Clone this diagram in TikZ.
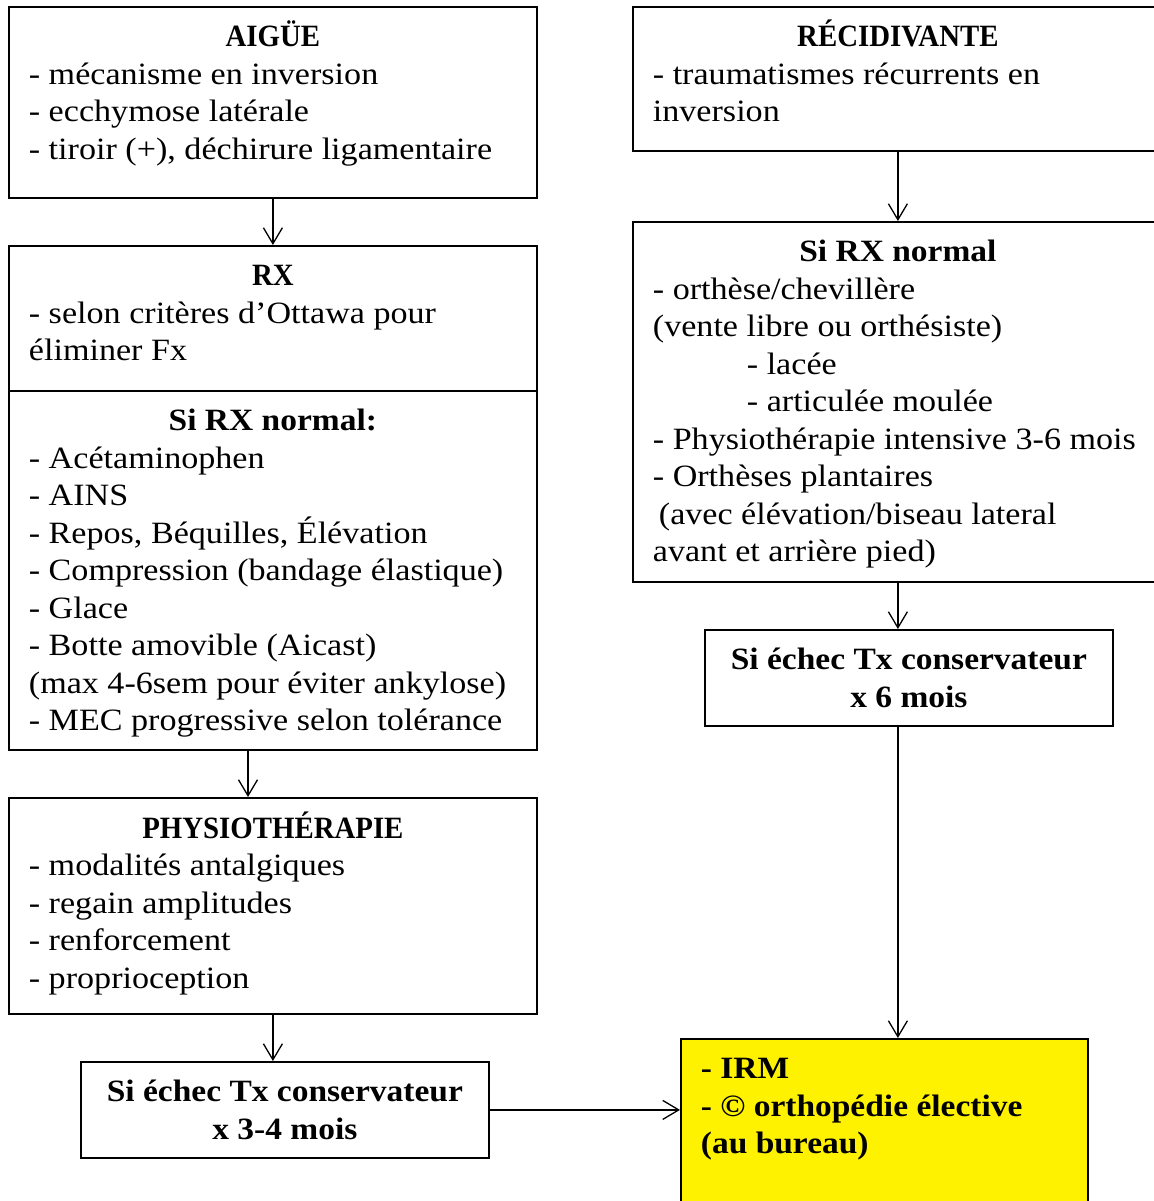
\documentclass[tikz,border=0pt]{standalone}
\usepackage{fontspec}
\setmainfont[FakeStretch=1.10, BoldFeatures={FakeStretch=1.08}]{Liberation Serif}
\newfontfamily\capsfont[FakeStretch=0.93]{Liberation Serif Bold}
\usetikzlibrary{arrows.meta}
\newcommand\mainsz{\fontsize{31pt}{37.5pt}\selectfont}
\newcommand\bxt[3]{\parbox[c][#2][t]{#1}{\mainsz\raggedright\vspace*{13.5pt}#3}}
\newcommand\ttl[1]{\centerline{\strut{\capsfont #1}}}
\tikzset{
  box/.style={draw=black, line width=1.8pt, inner xsep=20pt, inner ysep=0pt, anchor=north west},
  conn/.style={line width=1.3pt, -{Straight Barb[length=16pt,width=19pt,line width=1.3pt]}},
}
\begin{document}
\begin{tikzpicture}[x=1pt,y=-1pt]
\path[fill=white,use as bounding box] (0,0) rectangle (1153,1201);

% left column
\node[box] (aig) at (8,6) {\bxt{488pt}{191pt}{%
  \ttl{AIGÜE}
  \strut- mécanisme en inversion\\
  - ecchymose latérale\\
  - tiroir (+), déchirure ligamentaire}};

\node[box] (rx) at (8,245) {\bxt{488pt}{145pt}{%
  \ttl{RX}
  \strut- selon critères d’Ottawa pour\\
  éliminer Fx}};

\node[box] (sirx) at (8,390) {\bxt{488pt}{359pt}{%
  \centerline{\strut\bfseries Si RX normal:}
  \strut- Acétaminophen\\
  - AINS\\
  - Repos, Béquilles, Élévation\\
  - Compression (bandage élastique)\\
  - Glace\\
  - Botte amovible (Aicast)\\
  (max 4-6sem pour éviter ankylose)\\
  - MEC progressive selon tolérance}};

\node[box] (phys) at (8,797) {\bxt{488pt}{216pt}{%
  \ttl{PHYSIOTHÉRAPIE}
  \strut- modalités antalgiques\\
  - regain amplitudes\\
  - renforcement\\
  - proprioception}};

\node[box] (ech34) at (80,1061) {\bxt{368pt}{96pt}{\bfseries
  \centerline{\strut Si échec Tx conservateur}
  \centerline{x 3-4 mois}}};

% right column
\node[box] (rec) at (632,6) {\bxt{490pt}{144pt}{%
  \ttl{RÉCIDIVANTE}
  \strut- traumatismes récurrents en\\
  inversion}};

\node[box] (sirx2) at (632,221) {\bxt{490pt}{360pt}{%
  \centerline{\strut\bfseries Si RX normal}
  \strut- orthèse/chevillère\\
  (vente libre ou orthésiste)\\
  \hspace*{94pt}- lacée\\
  \hspace*{94pt}- articulée moulée\\
  - Physiothérapie intensive 3-6 mois\\
  - Orthèses plantaires\\
  \hspace*{6pt}(avec élévation/biseau lateral\\
  avant et arrière pied)}};

\node[box] (ech6) at (704,629) {\bxt{368pt}{96pt}{\bfseries
  \centerline{\strut Si échec Tx conservateur}
  \centerline{x 6 mois}}};

\node[box, fill=yellow] (irm) at (680,1038) {\bxt{367pt}{175pt}{\bfseries
  \strut- IRM\\
  - © orthopédie élective\\
  (au bureau)}};

% connectors
\coordinate (c1) at (248,0);
\draw[conn] (aig.south) -- (rx.north);
\draw[conn] (sirx.south -| c1) -- (phys.north -| c1);
\draw[conn] (phys.south) -- (ech34.north -| phys.south);
\draw[conn] (ech34.east) -- (ech34.east -| irm.west);
\draw[conn] (rec.south) -- (sirx2.north);
\draw[conn] (sirx2.south) -- (sirx2.south |- ech6.north);
\draw[conn] (sirx2.south |- ech6.south) -- (sirx2.south |- irm.north);
\end{tikzpicture}
\end{document}
